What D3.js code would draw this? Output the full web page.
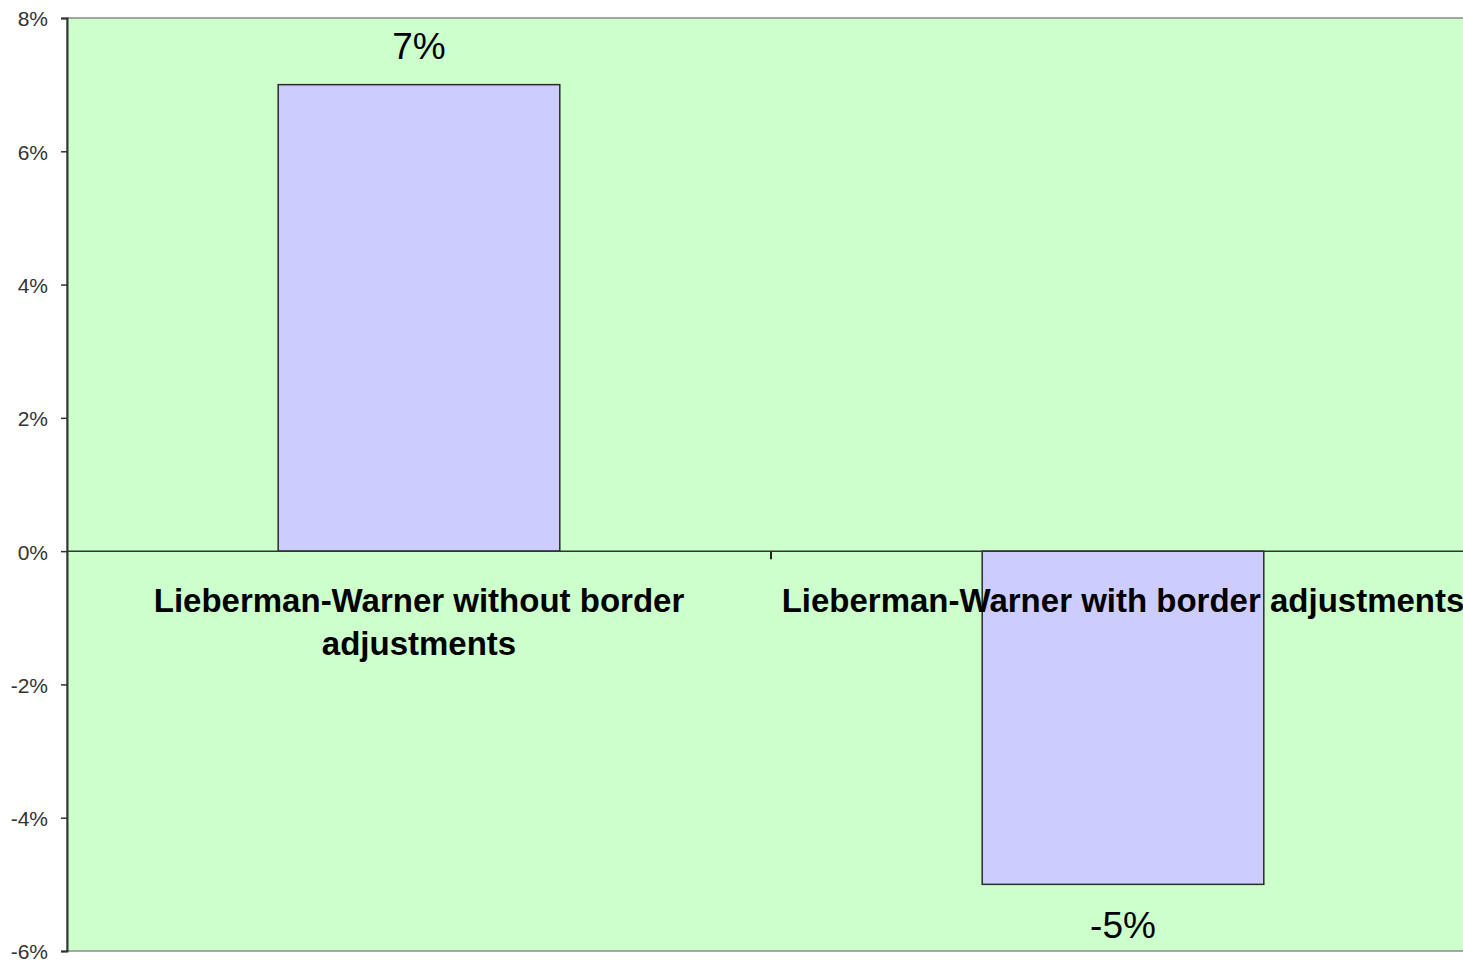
<!DOCTYPE html>
<html>
<head>
<meta charset="utf-8">
<script src="https://cdn.jsdelivr.net/npm/d3@7"></script>
<style>
  body { margin: 0; background: #fff; overflow: hidden; }
  svg { display: block; font-family: Arial, "Liberation Sans", sans-serif; }
</style>
</head>
<body>
<div class="vis"></div>
<script>
const categories = [
  ["Lieberman-Warner without border", "adjustments"],
  ["Lieberman-Warner with border adjustments"]
];
const values = [0.07, -0.05];
const valueLabels = ["7%", "-5%"];
const yTicks = [0.08, 0.06, 0.04, 0.02, 0, -0.02, -0.04, -0.06];

const width = 1463, height = 961;
const margin = { top: 18, right: -12, bottom: 10, left: 67 };

const svg = d3.select(".vis").append("svg")
  .attr("width", width)
  .attr("height", height);

const names = categories.map((c) => c.join(" "));

let x = d3.scaleBand()
  .domain(names)
  .range([margin.left, width - margin.right])
  .paddingInner(0.6)
  .paddingOuter(0.3);

let y = d3.scaleLinear()
  .domain([-0.06, 0.08])
  .range([height - margin.bottom, margin.top]);

// plot area
svg.append("rect")
  .attr("x", margin.left)
  .attr("y", y(0.08))
  .attr("width", width - margin.right - margin.left)
  .attr("height", y(-0.06) - y(0.08))
  .attr("fill", "#ccffcc")
  .attr("stroke", "#8a8a8a")
  .attr("stroke-width", 1.5);

// bars
svg.append("g")
  .selectAll("rect")
  .data(values)
  .join("rect")
  .attr("x", (d, i) => x(names[i]))
  .attr("y", (d) => y(Math.max(0, d)))
  .attr("width", x.bandwidth())
  .attr("height", (d) => Math.abs(y(d) - y(0)))
  .attr("fill", "#ccccff")
  .attr("stroke", "#2b2b2b")
  .attr("stroke-width", 1.5);

// y axis
let yAxis = (g) =>
  g.attr("transform", `translate(${margin.left},0)`)
    .call(d3.axisLeft(y)
      .tickValues(yTicks)
      .tickFormat((d) => Math.round(d * 100) + "%")
      .tickSize(6)
      .tickPadding(13))
    .call((g) => g.select(".domain").attr("stroke", "#333").attr("stroke-width", 2))
    .call((g) => g.selectAll(".tick line").attr("stroke", "#333").attr("stroke-width", 1.5))
    .call((g) => g.selectAll(".tick text")
      .attr("font-size", 21)
      .attr("dy", "0.38em")
      .attr("font-family", "Arial, 'Liberation Sans', sans-serif")
      .attr("fill", "#333"));
svg.append("g").call(yAxis);

// zero line with category ticks
svg.append("line")
  .attr("x1", margin.left)
  .attr("x2", width - margin.right)
  .attr("y1", y(0))
  .attr("y2", y(0))
  .attr("stroke", "#333")
  .attr("stroke-width", 1.5);

const step = x.step();
svg.append("g")
  .selectAll("line")
  .data(names.slice(1))
  .join("line")
  .attr("x1", (d) => x(d) - x.paddingInner() * step / 2)
  .attr("x2", (d) => x(d) - x.paddingInner() * step / 2)
  .attr("y1", y(0))
  .attr("y2", y(0) + 8)
  .attr("stroke", "#222")
  .attr("stroke-width", 2);

// category labels
svg.append("g")
  .selectAll("text")
  .data(categories)
  .join("text")
  .attr("x", (d, i) => x(names[i]) + x.bandwidth() / 2)
  .attr("y", y(0) + 61)
  .attr("text-anchor", "middle")
  .attr("font-size", 33)
  .attr("font-weight", "bold")
  .attr("fill", "#000")
  .each(function (d) {
    d3.select(this).selectAll("tspan")
      .data(d)
      .join("tspan")
      .attr("x", d3.select(this).attr("x"))
      .attr("dy", (t, j) => (j === 0 ? 0 : 43))
      .text((t) => t);
  });

// value labels
svg.append("g")
  .selectAll("text")
  .data(values)
  .join("text")
  .attr("x", (d, i) => x(names[i]) + x.bandwidth() / 2)
  .attr("y", (d) => (d > 0 ? y(d) - 26 : y(d) + 54))
  .attr("text-anchor", "middle")
  .attr("font-size", 37)
  .attr("fill", "#000")
  .text((d, i) => valueLabels[i]);
</script>
</body>
</html>
